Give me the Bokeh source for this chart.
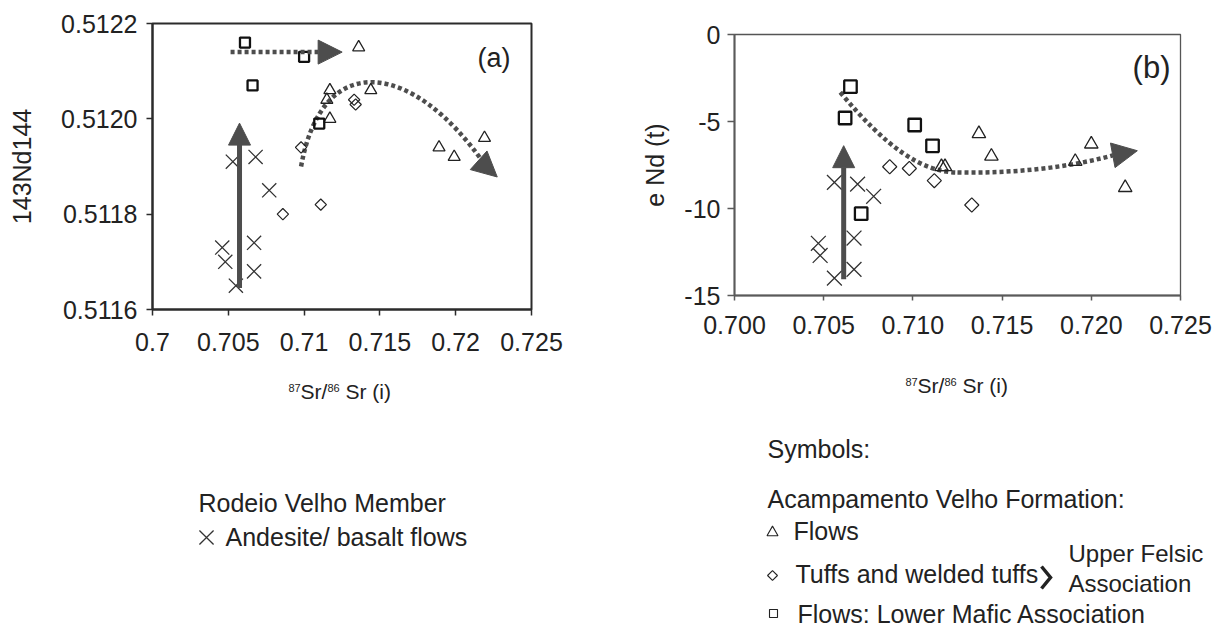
from bokeh.plotting import figure
from bokeh.layouts import column, row
from bokeh.models import Range1d, FixedTicker, CustomJSTickFormatter, Arrow, NormalHead
from bokeh.embed import file_html
from bokeh.resources import INLINE
from bokeh.core.properties import value

FONT = "Liberation Sans"
INK = "#222222"
ARROW = "#4d4d4d"

# ---------------- data, panel (a) ----------------
a_sq_x = [0.7061, 0.7100, 0.7066, 0.7110]
a_sq_y = [0.51216, 0.51213, 0.51207, 0.51199]
a_tri_x = [0.7136, 0.7117, 0.7115, 0.7117, 0.7144, 0.7189, 0.7199, 0.7219]
a_tri_y = [0.51215, 0.51206, 0.51204, 0.51200, 0.51206, 0.51194, 0.51192, 0.51196]
a_dia_x = [0.7098, 0.7133, 0.7134, 0.7111, 0.7086]
a_dia_y = [0.51194, 0.51204, 0.51203, 0.51182, 0.51180]
a_x_x = [0.7053, 0.7068, 0.7077, 0.7046, 0.7048, 0.7067, 0.7067, 0.7055]
a_x_y = [0.51191, 0.51192, 0.51185, 0.51173, 0.51170, 0.51174, 0.51168, 0.51165]

# ---------------- data, panel (b) ----------------
b_sq_x = [0.7065, 0.7062, 0.7101, 0.7111, 0.7071]
b_sq_y = [-3.0, -4.8, -5.2, -6.4, -10.3]
b_tri_x = [0.7137, 0.7144, 0.7116, 0.7118, 0.7191, 0.7200, 0.7219]
b_tri_y = [-5.7, -7.0, -7.6, -7.6, -7.3, -6.3, -8.8]
b_dia_x = [0.7087, 0.7098, 0.7112, 0.7133]
b_dia_y = [-7.6, -7.7, -8.4, -9.8]
b_x_x = [0.7056, 0.7069, 0.7078, 0.7047, 0.7048, 0.7067, 0.7067, 0.7056]
b_x_y = [-8.5, -8.6, -9.3, -12.0, -12.7, -11.7, -13.5, -14.0]

# ---------------- ticks ----------------
a_xticks = [0.7, 0.705, 0.71, 0.715, 0.72, 0.725]
a_yticks = [0.5116, 0.5118, 0.5120, 0.5122]
b_xticks = [0.700, 0.705, 0.710, 0.715, 0.720, 0.725]
b_yticks = [0, -5, -10, -15]

# ---------------- trend arrows (hand-drawn in original) ----------------
a_up_x = [0.70574, 0.70574]          # vertical arrow: start, end
a_up_y = [0.511645, 0.511991]
a_hor_x = [0.70515, 0.71251]         # dotted horizontal arrow
a_hor_y = [0.51214, 0.51214]
a_curve = dict(x0=[0.7098], y0=[0.51190], cx0=[0.7112], cy0=[0.51215],
               cx1=[0.7172], cy1=[0.51212], x1=[0.7219], y1=[0.511905])
a_curve_head_x = [0.7212, 0.72274]
a_curve_head_y = [0.511922, 0.511878]

b_up_x = [0.70612, 0.70612]
b_up_y = [-14.07, -6.39]
b_curve = dict(x0=[0.70593, 0.7125], y0=[-3.32, -7.93],
               cx0=[0.7085, 0.7155], cy0=[-6.5, -7.98],
               cx1=[0.7105, 0.7185], cy1=[-7.9, -7.7],
               x1=[0.7125, 0.7212], y1=[-7.93, -6.95])
b_curve_head_x = [0.7208, 0.72258]
b_curve_head_y = [-7.02, -6.68]


def style_axis(ax, color, lw, tick_out, standoff):
    ax.major_tick_out = tick_out
    ax.major_tick_in = 0
    ax.minor_tick_out = 0
    ax.minor_tick_in = 0
    ax.axis_line_color = color
    ax.axis_line_width = lw
    ax.major_tick_line_color = color
    ax.major_tick_line_width = 1.5
    ax.major_label_text_font = FONT
    ax.major_label_text_font_size = "25px"
    ax.major_label_text_color = INK
    ax.major_label_standoff = standoff


def base_fig(w, h, xr, yr, ml, mr, mt, mb):
    p = figure(width=w, height=h, x_range=Range1d(*xr), y_range=Range1d(*yr),
               output_backend="svg", toolbar_location=None,
               min_border_left=ml, min_border_right=mr,
               min_border_top=mt, min_border_bottom=mb)
    p.frame_align = False
    p.xgrid.visible = False
    p.ygrid.visible = False
    p.background_fill_color = "white"
    p.border_fill_color = "white"
    return p


def draw_points(p, sqx, sqy, trx, tryy, dix, diy, xx, xy, big):
    s = 1.25 if big else 1.0
    p.scatter(xx, xy, marker="x", size=21 if big else 20, line_color="#333333", line_width=1.3)
    p.scatter(dix, diy, marker="square", angle=0.785398, size=8 * s,
              fill_color=None, line_color=INK, line_width=1.2)
    p.scatter(trx, tryy, marker="triangle", size=13.5 if big else 12,
              fill_color=None, line_color=INK, line_width=1.3)
    p.scatter(sqx, sqy, marker="square", size=10 * s,
              fill_color=None, line_color="#111111", line_width=2.3)


TOP_H = 370

# ================= panel (a) =================
pa = base_fig(638, TOP_H, (0.7, 0.725), (0.5116, 0.5122), 152, 107, 23, TOP_H - 309)
pa.outline_line_color = "#2b2b2b"
pa.outline_line_width = 2
pa.outline_line_alpha = 1
pa.xaxis.ticker = FixedTicker(ticks=a_xticks)
pa.yaxis.ticker = FixedTicker(ticks=a_yticks)
pa.xaxis.formatter = CustomJSTickFormatter(code="return tick.toFixed(3).replace(/0+$/, '');")
pa.yaxis.formatter = CustomJSTickFormatter(code="return tick.toFixed(4);")
style_axis(pa.xaxis[0], "#2b2b2b", 2, 6, 17)
style_axis(pa.yaxis[0], "#2b2b2b", 2, 6, 9)
pa.yaxis.axis_label = "143Nd144"
pa.yaxis.axis_label_text_font = FONT
pa.yaxis.axis_label_text_font_style = "normal"
pa.yaxis.axis_label_text_font_size = "25px"
pa.yaxis.axis_label_text_color = INK
pa.yaxis.axis_label_standoff = 22

pa.add_layout(Arrow(end=NormalHead(size=22, fill_color=ARROW, line_color=ARROW),
                    x_start=a_up_x[0], y_start=a_up_y[0], x_end=a_up_x[1], y_end=a_up_y[1],
                    line_color=ARROW, line_width=5))
pa.add_layout(Arrow(end=NormalHead(size=24, fill_color=ARROW, line_color=ARROW),
                    x_start=a_hor_x[0], y_start=a_hor_y[0], x_end=a_hor_x[1], y_end=a_hor_y[1],
                    line_color=ARROW, line_width=4.5, line_dash="4 3"))
pa.bezier(line_color=ARROW, line_width=4.5, line_dash="4 3", **a_curve)
pa.add_layout(Arrow(end=NormalHead(size=25, fill_color=ARROW, line_color=ARROW),
                    x_start=a_curve_head_x[0], y_start=a_curve_head_y[0],
                    x_end=a_curve_head_x[1], y_end=a_curve_head_y[1], line_alpha=0))
draw_points(pa, a_sq_x, a_sq_y, a_tri_x, a_tri_y, a_dia_x, a_dia_y, a_x_x, a_x_y, False)
pa.text(x=[0.72362], y=[0.512127], text=["(a)"], text_font=value(FONT),
        text_font_size="27px", text_align="right", text_baseline="middle", text_color=INK)

# ================= panel (b) =================
pb = base_fig(584, TOP_H, (0.700, 0.725), (-15, 0), 94, 42, 34, TOP_H - 295)
pb.outline_line_color = "#555555"
pb.outline_line_width = 1.3
pb.outline_line_alpha = 1
pb.xaxis.ticker = FixedTicker(ticks=b_xticks)
pb.yaxis.ticker = FixedTicker(ticks=b_yticks)
pb.xaxis.formatter = CustomJSTickFormatter(code="return tick.toFixed(3);")
pb.yaxis.formatter = CustomJSTickFormatter(code="return tick.toFixed(0);")
style_axis(pb.xaxis[0], "#5a5a5a", 2, 5, 15)
style_axis(pb.yaxis[0], "#5a5a5a", 2, 7, 7)
pb.yaxis.axis_label = "e Nd (t)"
pb.yaxis.axis_label_text_font = FONT
pb.yaxis.axis_label_text_font_style = "normal"
pb.yaxis.axis_label_text_font_size = "25px"
pb.yaxis.axis_label_text_color = INK
pb.yaxis.axis_label_standoff = 12

pb.add_layout(Arrow(end=NormalHead(size=22, fill_color=ARROW, line_color=ARROW),
                    x_start=b_up_x[0], y_start=b_up_y[0], x_end=b_up_x[1], y_end=b_up_y[1],
                    line_color=ARROW, line_width=5))
pb.bezier(line_color=ARROW, line_width=4.5, line_dash="4 3", **b_curve)
pb.add_layout(Arrow(end=NormalHead(size=25, fill_color=ARROW, line_color=ARROW),
                    x_start=b_curve_head_x[0], y_start=b_curve_head_y[0],
                    x_end=b_curve_head_x[1], y_end=b_curve_head_y[1], line_alpha=0))
draw_points(pb, b_sq_x, b_sq_y, b_tri_x, b_tri_y, b_dia_x, b_dia_y, b_x_x, b_x_y, True)
pb.text(x=[0.72444], y=[-1.9], text=["(b)"], text_font=value(FONT),
        text_font_size="31px", text_align="right", text_baseline="middle", text_color=INK)

# ================= lower area: axis titles and symbol key =================
LEG_H = 629 - TOP_H
leg = figure(width=1222, height=LEG_H, x_range=Range1d(0, 1222), y_range=Range1d(629, TOP_H),
             output_backend="svg", toolbar_location=None, min_border=0, title=None,
             x_axis_location=None, y_axis_location=None)
leg.frame_align = False
leg.xgrid.visible = False
leg.ygrid.visible = False
leg.outline_line_color = None

# x-axis titles with superscripts (positions are text centres)
leg.text(x=[300, 345, 917, 962], y=[391, 391, 385, 385],
         text=["Sr/", "Sr (i)", "Sr/", "Sr (i)"], text_font=value(FONT),
         text_font_size="21px", text_baseline="middle", text_color=INK)
leg.text(x=[288, 327, 905, 944], y=[387, 387, 381, 381],
         text=["87", "86", "87", "86"], text_font=value(FONT),
         text_font_size="11px", text_baseline="middle", text_color=INK)

# key texts (positions are text centres)
leg.text(x=[767, 767, 793, 795, 797, 198, 225],
         y=[448, 498, 530, 573, 613, 502, 536],
         text=["Symbols:", "Acampamento Velho Formation:", "Flows",
               "Tuffs and welded tuffs", "Flows: Lower Mafic Association",
               "Rodeio Velho Member", "Andesite/ basalt flows"],
         text_font=value(FONT), text_font_size="25px",
         text_baseline="middle", text_color=INK)
leg.text(x=[1068, 1068], y=[553, 583], text=["Upper Felsic", "Association"],
         text_font=value(FONT), text_font_size="24px",
         text_baseline="middle", text_color=INK)
leg.line(x=[1041, 1050, 1041], y=[566, 577, 588], line_color=INK, line_width=3.5,
         line_join="miter")
leg.scatter(x=[772], y=[532], marker="triangle", size=11, fill_color=None,
            line_color=INK, line_width=1.1)
leg.scatter(x=[772], y=[575], marker="square", angle=0.785398, size=7, fill_color=None,
            line_color=INK, line_width=1.1)
leg.scatter(x=[773], y=[613], marker="square", size=8, fill_color=None,
            line_color=INK, line_width=1.1)
leg.scatter(x=[206], y=[537], marker="x", size=20, line_color="#333333", line_width=1.3)

layout = column(row(pa, pb), leg)
open("out.html", "w").write(file_html(layout, INLINE))
